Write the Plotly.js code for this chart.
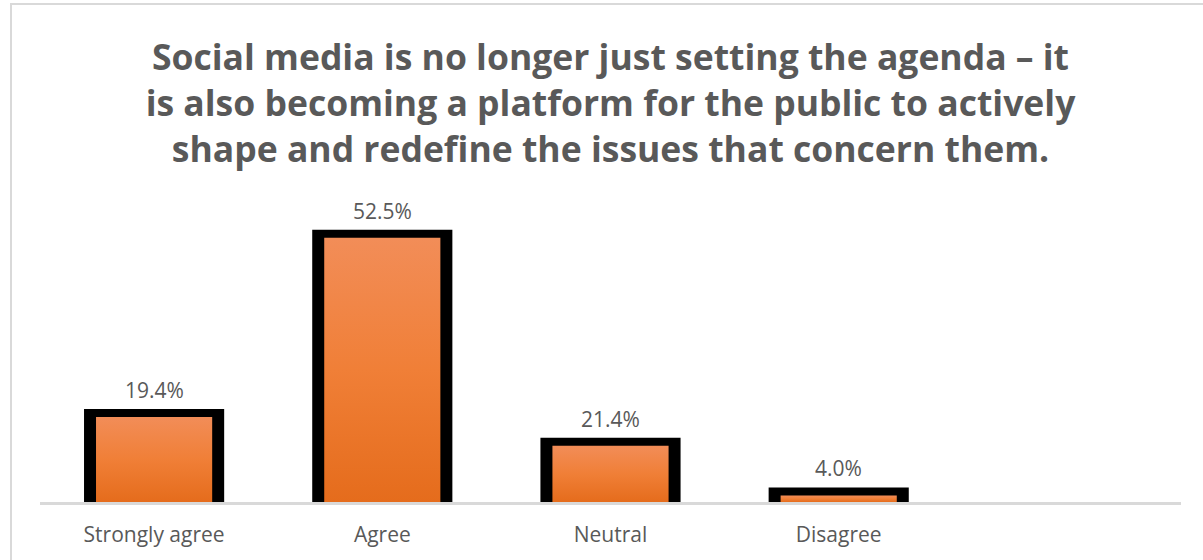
<!DOCTYPE html>
<html>
<head>
<meta charset="utf-8">
<script src="https://cdn.plot.ly/plotly-3.0.1.min.js"></script>
<style>
  html, body { margin: 0; padding: 0; background: #ffffff; overflow: hidden; }
  #frame { position: absolute; left: 10px; top: 3px; width: 1400px; height: 800px;
           border: 2px solid #d9d9d9; box-sizing: border-box; }
  #chart { position: absolute; left: 0; top: 0; width: 1203px; height: 560px; }
</style>
</head>
<body>
<div id="frame"></div>
<div id="chart"></div>
<script>
// ---- data ----
const categories = ['Strongly agree', 'Agree', 'Neutral', 'Disagree'];
// drawn bar heights as they appear in the picture (same % scale)
const barHeights = [16.9, 52.5, 11.2, 1.3];
// value labels printed above the bars
const valueLabels = ['19.4%', '52.5%', '21.4%', '4.0%'];
const titleLines = [
  'Social media is no longer just setting the agenda \u2013 it',
  'is also becoming a platform for the public to actively',
  'shape and redefine the issues that concern them.'
];

const textColor = '#595959';

const outlineTrace = {
  type: 'bar', x: categories, y: barHeights, width: 0.544,
  marker: { color: '#000000', line: { color: '#000000', width: 16 } },
  hoverinfo: 'skip', showlegend: false
};
const fillTrace = {
  type: 'bar', x: categories, y: barHeights, width: 0.509,
  marker: { color: '#ef7d34', line: { width: 0 } },
  hoverinfo: 'skip', showlegend: false
};

const annotations = categories.map((c, i) => ({
  x: c, y: barHeights[i], xref: 'x', yref: 'y',
  text: valueLabels[i], showarrow: false,
  yanchor: 'bottom', yshift: 11,
  font: { family: 'Open Sans, sans-serif', size: 21, color: textColor }
}));

const layout = {
  width: 1203, height: 560,
  paper_bgcolor: 'rgba(0,0,0,0)', plot_bgcolor: 'rgba(0,0,0,0)',
  margin: { l: 40, r: 22, t: 200, b: 57.5, pad: 0 },
  barmode: 'overlay',
  title: {
    text: titleLines.join('<br>'),
    xref: 'paper', x: 0.5, xanchor: 'center',
    yref: 'container', y: 1 - 70 / 560, yanchor: 'top',
    font: { family: 'Open Sans, sans-serif', size: 35.5, color: textColor, weight: 'bold' }
  },
  xaxis: {
    type: 'category', range: [-0.5, 4.5],
    showline: true, linecolor: '#d9d9d9', linewidth: 3,
    showgrid: false, zeroline: false, ticks: '',
    ticklabelstandoff: 12,
    tickfont: { family: 'Open Sans, sans-serif', size: 21, color: textColor },
    fixedrange: true
  },
  yaxis: {
    range: [0, 60], visible: false, showgrid: false, zeroline: false, fixedrange: true
  },
  annotations: annotations,
  showlegend: false
};

Plotly.newPlot('chart', [outlineTrace, fillTrace], layout, { displayModeBar: false, staticPlot: true })
  .then(function (gd) {
    const ns = 'http://www.w3.org/2000/svg';
    const svg = gd.querySelector('.main-svg');
    let defs = svg.querySelector('defs');
    if (!defs) { defs = document.createElementNS(ns, 'defs'); svg.insertBefore(defs, svg.firstChild); }
    const grad = document.createElementNS(ns, 'linearGradient');
    grad.setAttribute('id', 'orangeGrad');
    grad.setAttribute('x1', '0'); grad.setAttribute('y1', '0');
    grad.setAttribute('x2', '0'); grad.setAttribute('y2', '1');
    [['0', '#f28d58'], ['0.5', '#f07f37'], ['1', '#e56c1c']].forEach(function (s) {
      const st = document.createElementNS(ns, 'stop');
      st.setAttribute('offset', s[0]); st.setAttribute('stop-color', s[1]);
      grad.appendChild(st);
    });
    defs.appendChild(grad);
    const traces = gd.querySelectorAll('g.trace.bars');
    if (traces.length > 1) {
      traces[1].querySelectorAll('path').forEach(function (p) { p.style.fill = 'url(#orangeGrad)'; });
    }
  });
</script>
</body>
</html>
